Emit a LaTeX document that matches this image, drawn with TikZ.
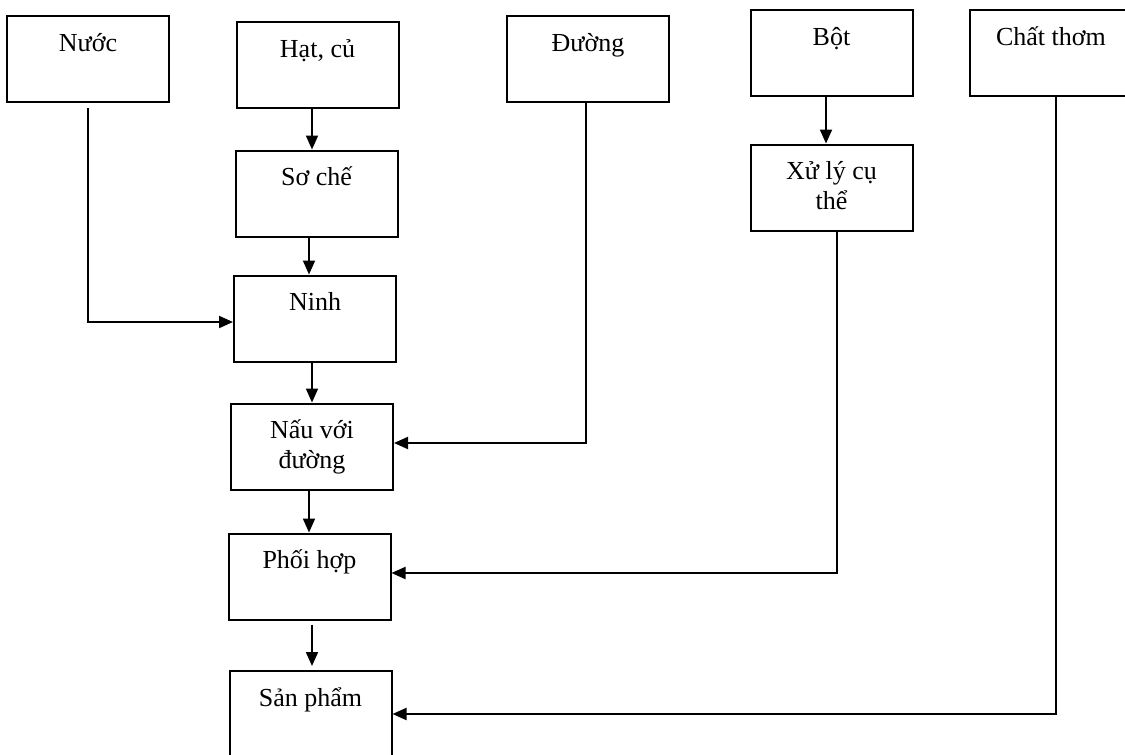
\documentclass[tikz,border=0pt]{standalone}
\usepackage{fontspec}
\setmainfont{Liberation Serif}
\usetikzlibrary{arrows.meta}

\begin{document}
\begin{tikzpicture}[x=1pt,y=-1pt,
    buoc/.style={draw, line width=2pt, minimum width=162pt, minimum height=86pt, inner sep=0pt,
      label={[anchor=base, yshift=-36pt, align=center, font=\fontsize{26}{30}\selectfont]north:#1}},
    buocdoi/.style={draw, line width=2pt, minimum width=162pt, minimum height=86pt, inner sep=0pt,
      label={[anchor=base, yshift=-66pt, align=center, font=\fontsize{26}{30}\selectfont]north:#1}},
    muiten/.style={line width=2pt, -{Triangle[length=14pt,width=12pt]}}]
    \useasboundingbox (0,0) rectangle (1125,755);
    \clip (0,0) rectangle (1125,755);

    % hang tren cung
    \node[buoc=Nước] (nuoc) at (88,59) {};
    \node[buoc={Hạt, củ}] (hat) at (317.5,65) {};
    \node[buoc=Đường] (duong) at (588,59) {};
    \node[buoc=Bột] (bot) at (831.5,53) {};
    \node[buoc=Chất thơm] (thom) at (1051,53) {};

    % cot giua
    \node[buoc=Sơ chế] (soche) at (316.5,193.5) {};
    \node[buoc=Ninh] (ninh) at (315,318.5) {};
    \node[buocdoi={Nấu với\\đường}] (nau) at (312,446.5) {};
    \node[buoc=Phối hợp] (phoi) at (309.5,576.5) {};
    \node[buoc=Sản phẩm] (sp) at (310.5,714) {};
    \node[buocdoi={Xử lý cụ\\thể}] (xuly) at (831.5,187.5) {};

    \draw[muiten] ([xshift=-5.5pt]hat.south) -- ([xshift=-5.5pt]hat.south |- soche.north);
    \draw[muiten] ([xshift=-7.5pt]soche.south) -- ([xshift=-7.5pt]soche.south |- ninh.north);
    \draw[muiten] ([xshift=-3pt]ninh.south) -- ([xshift=-3pt]ninh.south |- nau.north);
    \draw[muiten] ([xshift=-3pt]nau.south) -- ([xshift=-3pt]nau.south |- phoi.north);
    \draw[muiten] ([xshift=2.5pt,yshift=-4pt]phoi.south) -- ([xshift=2.5pt,yshift=4pt]phoi.south |- sp.north);
    \draw[muiten] ([xshift=-5.5pt]bot.south) -- ([xshift=-5.5pt]bot.south |- xuly.north);

    \draw[muiten] ([yshift=-5pt]nuoc.south) |- ([yshift=-3.5pt]ninh.west);
    \draw[muiten] ([xshift=-2pt]duong.south) |- ([yshift=3.5pt]nau.east);
    \draw[muiten] ([xshift=5.5pt]xuly.south) |- ([yshift=3.5pt]phoi.east);
    \draw[muiten] ([xshift=5pt]thom.south) |- (sp.east);
  \end{tikzpicture}
\end{document}
